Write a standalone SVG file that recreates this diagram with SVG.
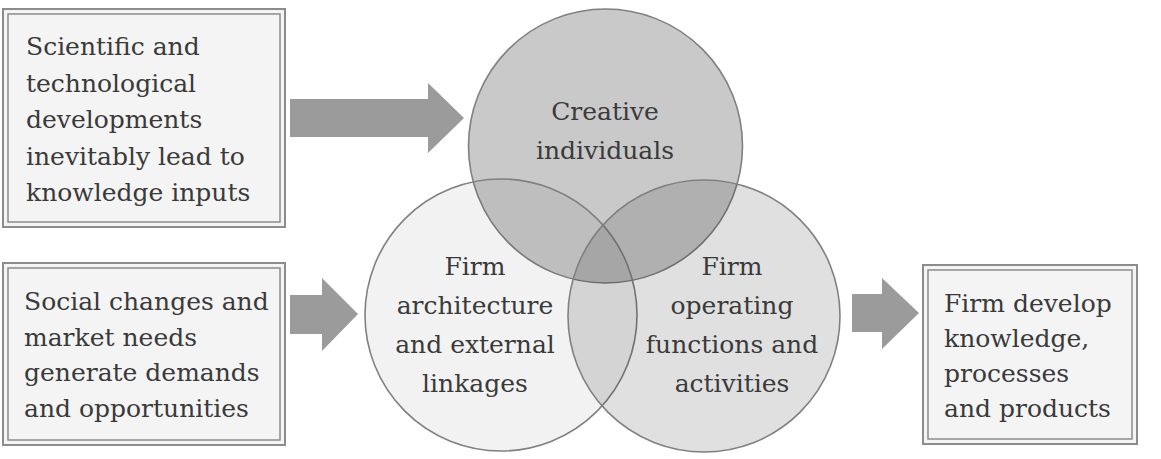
<svg xmlns="http://www.w3.org/2000/svg" width="1161" height="459" viewBox="0 0 1161 459">
<style>
.bo{fill:#f4f4f4;stroke:#8c8c8c;stroke-width:2}
.bi{fill:none;stroke:#8c8c8c;stroke-width:1.5}
.t{font-family:"DejaVu Serif","Liberation Serif",serif;font-size:25px;fill:#3a3a3a}
.c{text-anchor:middle}
.circ{fill:#000;stroke:#808080;stroke-width:1.6}
.arr{fill:#9b9b9b}
</style>
<rect width="1161" height="459" fill="#ffffff"/>
<g id="box-scientific">
<rect class="bo" x="3" y="9" width="282" height="218"/>
<rect class="bi" x="8" y="14" width="272" height="208"/>
<text class="t" x="26" y="55">Scientific and</text>
<text class="t" x="26" y="91.5">technological</text>
<text class="t" x="26" y="128">developments</text>
<text class="t" x="26" y="164.5">inevitably lead to</text>
<text class="t" x="26" y="201">knowledge inputs</text>
</g>
<g id="box-social">
<rect class="bo" x="3" y="263" width="282" height="182"/>
<rect class="bi" x="8" y="268" width="272" height="172"/>
<text class="t" x="24" y="310">Social changes and</text>
<text class="t" x="24" y="345.5">market needs</text>
<text class="t" x="24" y="381">generate demands</text>
<text class="t" x="24" y="416.5">and opportunities</text>
</g>
<g id="box-firm-develop">
<rect class="bo" x="923" y="265" width="214" height="179"/>
<rect class="bi" x="928" y="270" width="204" height="169"/>
<text class="t" x="944" y="312">Firm develop</text>
<text class="t" x="944" y="347">knowledge,</text>
<text class="t" x="944" y="382">processes</text>
<text class="t" x="944" y="417">and products</text>
</g>
<g id="circle-creative">
<circle class="circ" cx="605.5" cy="146" r="137" fill-opacity="0.21"/>
</g>
<g id="circle-architecture">
<circle class="circ" cx="501" cy="315" r="136" fill-opacity="0.05"/>
</g>
<g id="circle-operating">
<circle class="circ" cx="704" cy="316" r="136" fill-opacity="0.12"/>
</g>
<g id="labels">
<text class="t c" x="605" y="120">Creative</text>
<text class="t c" x="605" y="159">individuals</text>
<text class="t c" x="475" y="275">Firm</text>
<text class="t c" x="475" y="314">architecture</text>
<text class="t c" x="475" y="353">and external</text>
<text class="t c" x="475" y="392">linkages</text>
<text class="t c" x="732" y="275">Firm</text>
<text class="t c" x="732" y="314">operating</text>
<text class="t c" x="732" y="353">functions and</text>
<text class="t c" x="732" y="392">activities</text>
</g>
<g id="connectors">
<polygon class="arr" points="290,99 428,99 428,83 464,118 428,153 428,137 290,137"/>
<polygon class="arr" points="290,295 322,295 322,278 358,314 322,351 322,334 290,334"/>
<polygon class="arr" points="852,294 882,294 882,278 919,313 882,349 882,332 852,332"/>
</g>
</svg>
